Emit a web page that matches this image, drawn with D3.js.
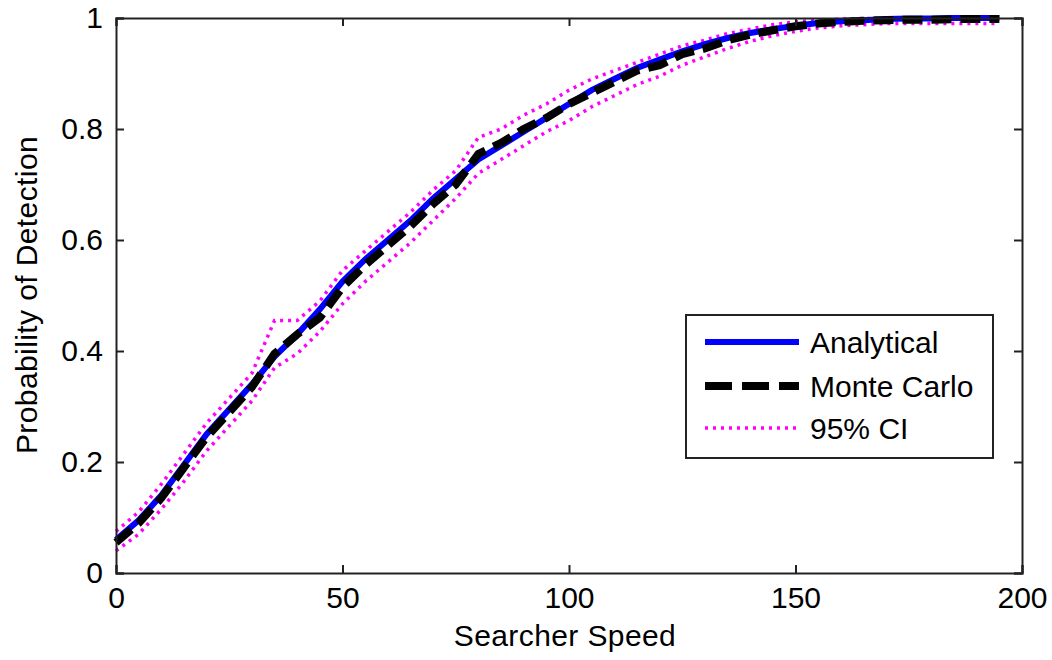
<!DOCTYPE html>
<html>
<head>
<meta charset="utf-8">
<script src="https://cdn.jsdelivr.net/npm/d3@7"></script>
<style>
  body { margin: 0; background: #fff; }
  text { font-family: "Liberation Sans", Arial, sans-serif; fill: #000; }
</style>
</head>
<body>
<svg class="chart"></svg>
<script>
// searcher speed samples
let speeds = [0,5,10,15,20,25,30,35,40,45,50,55,60,65,70,75,80,85,90,95,100,105,110,115,120,125,130,135,140,145,150,155,160,165,170,175,180,185,190,195];
let analytical = [0.06,0.095,0.14,0.195,0.25,0.295,0.34,0.39,0.43,0.475,0.525,0.565,0.60,0.635,0.675,0.71,0.745,0.77,0.795,0.82,0.845,0.87,0.89,0.91,0.925,0.94,0.953,0.964,0.973,0.98,0.986,0.991,0.994,0.996,0.998,0.999,0.999,1.0,1.0,1.0];
let monteCarlo = [0.055,0.09,0.135,0.19,0.245,0.29,0.335,0.395,0.43,0.46,0.515,0.555,0.59,0.625,0.665,0.70,0.755,0.775,0.80,0.82,0.845,0.865,0.885,0.905,0.915,0.935,0.945,0.96,0.97,0.978,0.985,0.99,0.993,0.995,0.996,0.997,0.997,0.998,0.998,0.998];
let ciUpper = [0.075,0.11,0.16,0.215,0.27,0.315,0.36,0.455,0.455,0.49,0.545,0.58,0.615,0.65,0.69,0.725,0.785,0.80,0.825,0.845,0.87,0.89,0.905,0.92,0.935,0.95,0.96,0.972,0.98,0.988,0.993,0.996,0.998,0.999,1.0,1.0,1.0,1.0,1.0,1.0];
let ciLower = [0.04,0.07,0.115,0.165,0.22,0.265,0.31,0.37,0.395,0.435,0.485,0.525,0.56,0.595,0.635,0.675,0.72,0.745,0.77,0.795,0.815,0.84,0.86,0.88,0.895,0.915,0.93,0.945,0.958,0.968,0.976,0.982,0.986,0.988,0.99,0.99,0.99,0.99,0.99,0.99];
let xTicks = [0,50,100,150,200];
let yTicks = [0,0.2,0.4,0.6,0.8,1];
let legendNames = ["Analytical","Monte Carlo","95% CI"];

let W = 1052, H = 660;
let mLeft = 116, mTop = 18, mRight = 1022, mBottom = 573;

let svg = d3.select(".chart").attr("width", W).attr("height", H);

let x = d3.scaleLinear().domain([0, 200]).range([mLeft, mRight]);
let y = d3.scaleLinear().domain([0, 1]).range([mBottom, mTop]);

let line = function(vals) {
  return d3.line()
    .x(function(d, i) { return x(speeds[i]); })
    .y(function(d) { return y(d); })(vals);
};

let plot = svg.append("g");

// CI bounds
[ciUpper, ciLower].forEach(function(vals) {
  plot.append("path")
    .attr("d", line(vals))
    .attr("fill", "none")
    .attr("stroke", "#ff00ff")
    .attr("stroke-width", 3.5)
    .attr("stroke-dasharray", "3,5");
});

plot.append("path")
  .attr("d", line(analytical))
  .attr("fill", "none")
  .attr("stroke", "#0000ff")
  .attr("stroke-width", 6);

plot.append("path")
  .attr("d", line(monteCarlo))
  .attr("fill", "none")
  .attr("stroke", "#000")
  .attr("stroke-width", 8)
  .attr("stroke-dasharray", "20,9");

// axes (ticks inside, on all four sides)
let fs = 30;
svg.append("g")
  .attr("transform", "translate(0," + mBottom + ")")
  .call(d3.axisBottom(x).tickValues(xTicks).tickSize(-8).tickPadding(14).tickFormat(d3.format("d")));
svg.append("g")
  .attr("transform", "translate(0," + mTop + ")")
  .call(d3.axisTop(x).tickValues(xTicks).tickSize(-8).tickFormat(""));
svg.append("g")
  .attr("transform", "translate(" + mLeft + ",0)")
  .call(d3.axisLeft(y).tickValues(yTicks).tickSize(-8).tickPadding(13).tickFormat(function(d) { return d3.format("")(d); }));
svg.append("g")
  .attr("transform", "translate(" + mRight + ",0)")
  .call(d3.axisRight(y).tickValues(yTicks).tickSize(-8).tickFormat(""));

svg.selectAll(".domain").attr("stroke", "#222").attr("stroke-width", 2);
svg.selectAll(".tick line").attr("stroke", "#222").attr("stroke-width", 2);
svg.selectAll(".tick text").style("font-size", fs + "px").style("font-family", "Liberation Sans, Arial, sans-serif").attr("fill", "#000");

// axis titles
svg.append("text")
  .attr("x", 565)
  .attr("y", 646)
  .attr("text-anchor", "middle")
  .style("font-size", fs + "px")
  .style("letter-spacing", "0.4px")
  .text("Searcher Speed");
svg.append("text")
  .attr("transform", "translate(37,295) rotate(-90)")
  .attr("text-anchor", "middle")
  .style("font-size", fs + "px")
  .style("letter-spacing", "0.4px")
  .text("Probability of Detection");

// legend
let lg = svg.append("g").attr("transform", "translate(686,315)");
lg.append("rect")
  .attr("width", 307).attr("height", 143)
  .attr("fill", "#fff").attr("stroke", "#222").attr("stroke-width", 2);
let styles = [
  {stroke: "#0000ff", width: 6, dash: null},
  {stroke: "#000", width: 8, dash: "27,10"},
  {stroke: "#ff00ff", width: 3.5, dash: "3,5"}
];
let rowY = [27, 71, 113];
legendNames.forEach(function(name, i) {
  lg.append("line")
    .attr("x1", 19).attr("x2", 113)
    .attr("y1", rowY[i]).attr("y2", rowY[i])
    .attr("stroke", styles[i].stroke)
    .attr("stroke-width", styles[i].width)
    .attr("stroke-dasharray", styles[i].dash);
  lg.append("text")
    .attr("x", 124).attr("y", rowY[i] + 11)
    .style("font-size", fs + "px")
    .text(name);
});
</script>
</body>
</html>
